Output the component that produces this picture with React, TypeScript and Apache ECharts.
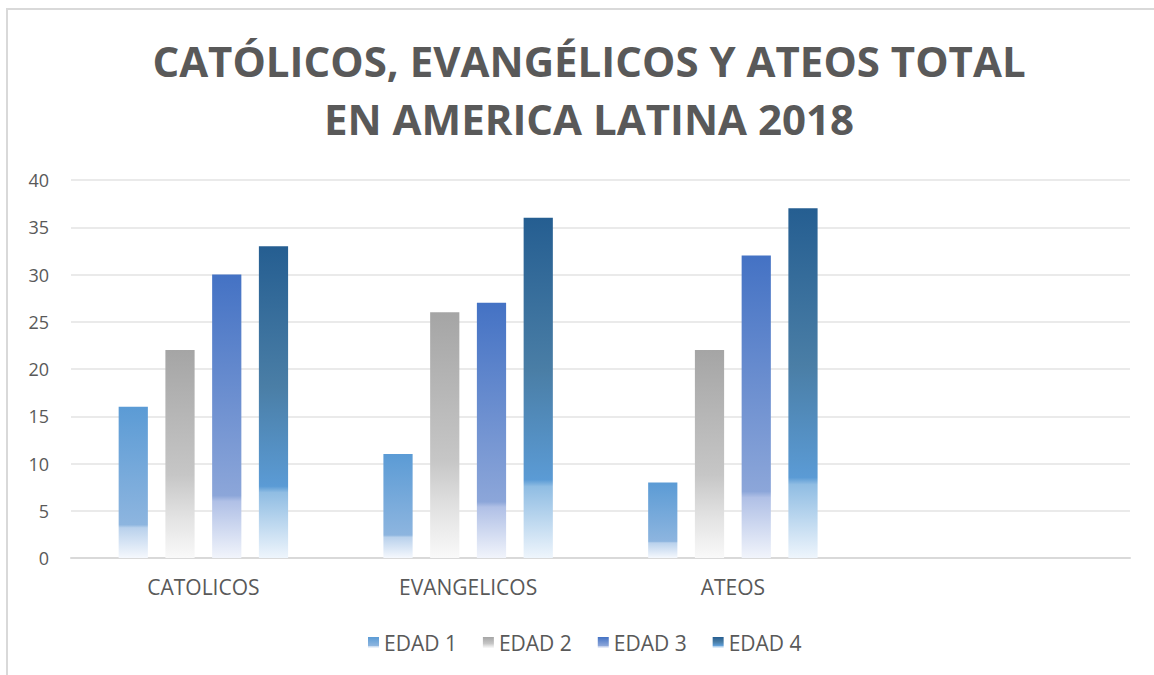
import React, { useEffect, useRef } from "react";
import * as echarts from "echarts";

const titleText = "CATÓLICOS, EVANGÉLICOS Y ATEOS TOTAL\nEN AMERICA LATINA 2018";
const categories = ["CATOLICOS", "EVANGELICOS", "ATEOS", ""];
const seriesNames = ["EDAD 1", "EDAD 2", "EDAD 3", "EDAD 4"];
const edad1 = [16, 11, 8, null];
const edad2 = [22, 26, 22, null];
const edad3 = [30, 27, 32, null];
const edad4 = [33, 36, 37, null];
const yTicks = { min: 0, max: 40, interval: 5 };

const gradients: [number, string][][] = [
  [[0, "#5b9bd5"], [0.78, "#8db5df"], [0.8, "#b9d1ec"], [1, "#f5f8fd"]],
  [[0, "#a5a5a5"], [0.6, "#c6c6c6"], [0.8, "#e2e2e2"], [1, "#f9f9f9"]],
  [[0, "#4472c4"], [0.78, "#8ca6d9"], [0.8, "#b0c0e6"], [1, "#f1f4fb"]],
  [[0, "#255e91"], [0.45, "#4a7ea6"], [0.77, "#5b9bd5"], [0.79, "#90bde3"], [1, "#eef5fc"]],
];

const mkGrad = (stops: [number, string][]) =>
  new echarts.graphic.LinearGradient(0, 0, 0, 1, stops.map(([offset, color]) => ({ offset, color })));

export default function App() {
  const ref = useRef<HTMLDivElement>(null);
  useEffect(() => {
    if (!ref.current) return;
    const chart = echarts.init(ref.current, null, { renderer: "svg" });
    const data = [edad1, edad2, edad3, edad4];
    chart.setOption({
      animation: false,
      backgroundColor: "#ffffff",
      textStyle: { fontFamily: "Open Sans" },
      legend: {
        data: seriesNames.map((n, i) => ({ name: n, itemStyle: { color: mkGrad(gradients[i]) } })),
        bottom: 17,
        left: 363,
        itemWidth: 11,
        itemHeight: 11,
        itemGap: 26,
        icon: "rect",
        textStyle: { fontSize: 21, color: "#595959", fontFamily: "Open Sans" },
      },
      grid: { left: 71, right: 24, top: 180, bottom: 117, containLabel: false },
      xAxis: {
        type: "category",
        data: categories,
        axisLine: { lineStyle: { color: "#d9d9d9", width: 2 } },
        axisTick: { show: false },
        axisLabel: { fontSize: 21, color: "#595959", margin: 18 },
      },
      yAxis: {
        type: "value",
        min: yTicks.min,
        max: yTicks.max,
        interval: yTicks.interval,
        axisLine: { show: false },
        axisTick: { show: false },
        axisLabel: { fontSize: 18, color: "#595959", margin: 22 },
        splitLine: { lineStyle: { color: "#e3e3e3", width: 1.5 } },
      },
      series: seriesNames.map((name, i) => ({
        name,
        type: "bar",
        data: data[i],
        barCategoryGap: "36%",
        barGap: "60%",
        itemStyle: { color: mkGrad(gradients[i]) },
      })),
      graphic: [
        {
          type: "rect",
          shape: { x: 7, y: 9, width: 1200, height: 720 },
          style: { fill: "none", stroke: "#d9d9d9", lineWidth: 2 },
          silent: true,
        },
        {
          type: "text",
          x: 589,
          y: 31,
          silent: true,
          style: {
            text: titleText,
            align: "center",
            verticalAlign: "top",
            fontFamily: "Open Sans",
            fontSize: 42,
            fontWeight: "bold",
            fill: "#595959",
            lineHeight: 58,
          },
        },
      ],
    });
    return () => chart.dispose();
  }, []);
  return (
    <div
      ref={ref}
      style={{ position: "absolute", left: 0, top: 0, width: 1154, height: 675 }}
    />
  );
}
